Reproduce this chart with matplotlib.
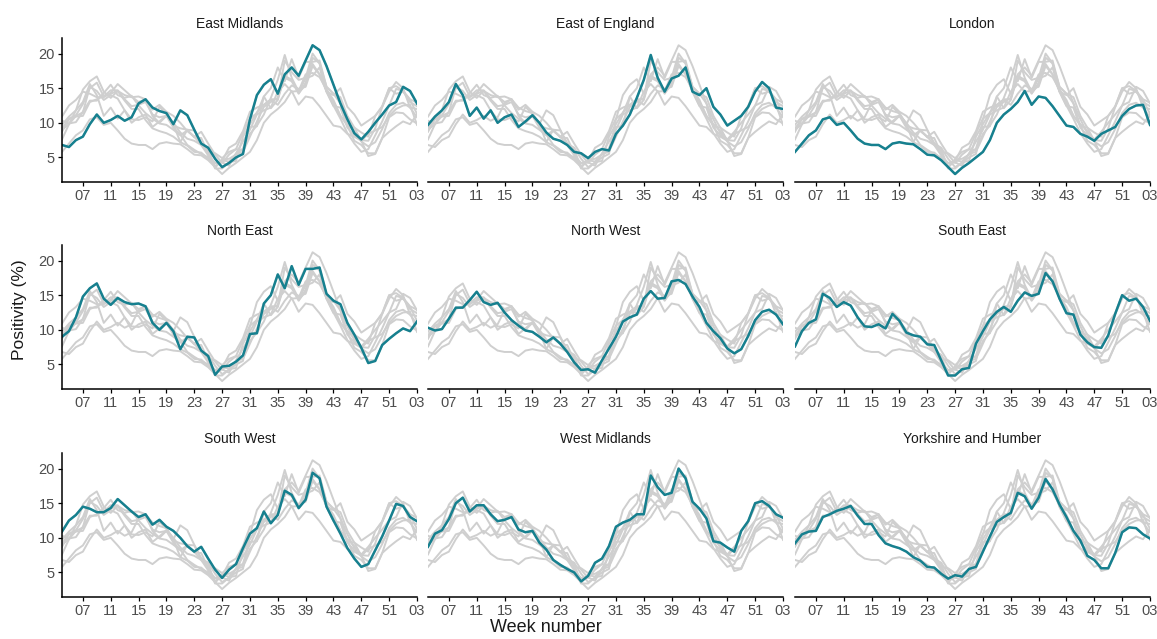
import numpy as np
import matplotlib
matplotlib.use("Agg")
import matplotlib.pyplot as plt

plt.rcParams['font.family'] = ['Liberation Sans', 'DejaVu Sans']

# Week index: 4..52 are weeks 04..52, 53..55 are weeks 01..03 of the next year
weeks = np.arange(4, 56)

regions = ["East Midlands", "East of England", "London",
           "North East", "North West", "South East",
           "South West", "West Midlands", "Yorkshire and Humber"]

east_midlands = [6.8, 6.5, 7.5, 8.0, 9.8, 11.2, 10.0, 10.4, 11.0, 10.3, 10.8, 12.8, 13.4, 12.2, 11.7, 11.4,
                 9.8, 11.8, 11.1, 9.0, 7.0, 6.4, 4.8, 3.6, 4.2, 5.0, 5.5, 10.5, 14.0, 15.5, 16.3, 14.2,
                 17.0, 18.0, 16.8, 19.0, 21.2, 20.5, 18.2, 15.5, 12.8, 10.5, 8.5, 7.6, 8.7, 10.0, 11.2, 12.5,
                 13.0, 15.2, 14.6, 12.8]
east_of_england = [9.7, 10.9, 11.8, 13.0, 15.6, 14.0, 11.0, 12.2, 10.6, 11.8, 10.0, 10.8, 11.2, 9.4, 10.2, 11.1,
                   10.0, 8.6, 7.7, 7.4, 6.8, 5.8, 5.6, 4.9, 5.8, 6.2, 6.0, 8.4, 9.6, 11.2, 13.6, 16.2,
                   19.8, 16.5, 14.5, 16.4, 16.8, 18.0, 14.5, 14.0, 15.0, 12.3, 11.2, 9.6, 10.3, 11.0, 12.3, 14.5,
                   15.9, 15.0, 12.2, 12.0]
london = [5.8, 7.0, 8.2, 8.9, 10.5, 10.8, 9.7, 10.0, 8.9, 7.7, 7.0, 6.8, 6.8, 6.2, 7.0, 7.2,
          7.0, 6.9, 6.2, 5.4, 5.3, 4.6, 3.6, 2.6, 3.5, 4.2, 5.0, 5.8, 7.5, 10.0, 11.2, 12.0,
          13.0, 14.6, 12.6, 13.8, 13.6, 12.4, 11.0, 9.6, 9.4, 8.4, 8.0, 7.4, 8.4, 8.9, 9.4, 11.0,
          12.0, 12.5, 12.6, 9.7]
north_east = [9.0, 9.8, 11.8, 14.8, 16.0, 16.7, 14.5, 13.6, 14.6, 14.0, 13.7, 13.8, 13.4, 11.0, 10.0, 11.0,
              9.8, 7.2, 9.0, 8.9, 7.0, 6.2, 3.5, 4.7, 4.8, 5.4, 6.3, 9.4, 9.5, 13.8, 15.0, 18.0,
              16.0, 19.2, 16.5, 18.8, 18.8, 19.0, 15.2, 14.2, 13.7, 11.0, 9.3, 7.4, 5.2, 5.5, 7.8, 8.7,
              9.5, 10.2, 9.8, 11.2]
north_west = [10.3, 9.9, 10.1, 11.6, 13.2, 13.2, 14.3, 15.5, 14.0, 13.6, 13.9, 12.5, 11.4, 10.6, 9.9, 9.7,
              9.0, 8.2, 8.9, 8.0, 6.8, 5.3, 4.2, 4.3, 3.8, 5.6, 7.3, 9.0, 11.2, 11.8, 12.2, 14.5,
              15.6, 14.5, 14.6, 17.0, 17.2, 16.6, 14.8, 13.3, 11.0, 9.8, 8.8, 7.3, 6.6, 7.2, 9.1, 11.4,
              12.6, 12.9, 12.2, 10.8]
south_east = [7.6, 9.8, 11.0, 11.5, 15.2, 14.6, 13.3, 14.0, 13.5, 11.8, 10.5, 10.4, 10.8, 10.2, 12.3, 11.3,
              9.6, 9.2, 9.0, 7.9, 7.8, 5.6, 3.4, 3.4, 4.3, 4.5, 8.0, 9.8, 11.5, 12.6, 13.3, 12.6,
              14.2, 15.4, 14.9, 15.2, 18.2, 17.0, 14.5, 12.4, 12.2, 9.3, 8.2, 7.5, 7.4, 9.2, 12.3, 15.0,
              14.2, 14.5, 13.3, 11.3]
south_west = [10.9, 12.5, 13.3, 14.5, 14.2, 13.7, 13.7, 14.3, 15.6, 14.7, 13.8, 13.0, 13.4, 11.9, 12.6, 11.6,
              11.0, 10.0, 8.8, 8.0, 8.7, 7.0, 5.4, 4.2, 5.4, 6.2, 8.5, 10.6, 11.4, 13.8, 12.1, 13.3,
              16.8, 16.2, 14.3, 15.5, 19.4, 18.6, 14.5, 12.5, 10.6, 8.5, 7.0, 5.8, 6.2, 8.2, 10.2, 12.5,
              14.9, 14.6, 13.0, 12.4]
west_midlands = [8.7, 10.6, 11.1, 12.7, 15.0, 15.8, 13.8, 14.7, 14.7, 13.4, 12.4, 12.6, 13.0, 11.2, 10.8, 11.0,
                 9.3, 8.3, 6.8, 6.1, 5.5, 5.0, 3.7, 4.5, 6.4, 7.0, 8.8, 11.6, 12.2, 12.6, 13.4, 13.4,
                 19.0, 17.3, 16.2, 16.5, 20.0, 18.6, 15.2, 14.2, 12.8, 9.5, 9.3, 8.6, 8.0, 11.0, 12.4, 15.0,
                 15.3, 14.6, 13.4, 12.9]
yorkshire_humber = [9.2, 10.5, 10.9, 11.0, 13.0, 13.4, 13.9, 14.2, 14.6, 13.2, 12.0, 12.0, 10.4, 9.2, 8.8, 8.5,
                    8.0, 7.2, 6.7, 5.8, 5.7, 4.8, 4.1, 4.6, 4.4, 5.5, 5.8, 8.0, 10.2, 12.3, 13.0, 13.6,
                    16.5, 16.0, 14.2, 15.8, 18.5, 17.0, 14.8, 13.0, 11.0, 9.6, 7.4, 6.8, 5.6, 5.6, 7.8, 10.8,
                    11.5, 11.4, 10.5, 9.9]

series = [east_midlands, east_of_england, london, north_east, north_west,
          south_east, south_west, west_midlands, yorkshire_humber]

tick_weeks = np.arange(7, 56, 4)
tick_labels = ["%02d" % (w if w <= 52 else w - 52) for w in tick_weeks]
y_ticks = [5, 10, 15, 20]

TEAL = "#16808f"
GREY = "#cfcfcf"
TICK_COL = "#4d4d4d"

fig = plt.figure(figsize=(11.57, 6.39), dpi=100)
W, H = 1157, 639
col_left = [62, 428, 795]
col_w = 355
row_top = [38, 245, 453]
row_h = 144

for i, (name, vals) in enumerate(zip(regions, series)):
    r, c = divmod(i, 3)
    ax = fig.add_axes([col_left[c] / W, 1 - (row_top[r] + row_h) / H, col_w / W, row_h / H])
    for other in series:
        ax.plot(weeks, other, color=GREY, lw=1.4, solid_joinstyle='round', zorder=1)
    ax.plot(weeks, vals, color=TEAL, lw=1.8, solid_joinstyle='round', zorder=2)
    ax.set_xlim(4, 55)
    ax.set_ylim(1.45, 22.25)
    ax.set_xticks(tick_weeks)
    ax.set_xticklabels(tick_labels)
    ax.set_yticks(y_ticks)
    for s in ["top", "right"]:
        ax.spines[s].set_visible(False)
    ax.spines["bottom"].set_linewidth(1.1)
    ax.spines["left"].set_linewidth(1.1)
    ax.tick_params(axis="both", colors="black", labelcolor=TICK_COL, labelsize=10.5,
                   length=3, width=0.9, pad=2)
    if c != 0:
        ax.spines["left"].set_visible(False)
        ax.tick_params(axis="y", left=False, labelleft=False)
    ax.set_title(name, fontsize=10, color="#1a1a1a", pad=7)

fig.text(546 / W, 1 - 628 / H, "Week number", ha="center", va="center", fontsize=13, color="#1a1a1a")
fig.text(20 / W, 1 - 310 / H, "Positivity (%)", ha="center", va="center", rotation=90,
         fontsize=12.5, color="#1a1a1a")

fig.savefig("out.png", dpi=100)
